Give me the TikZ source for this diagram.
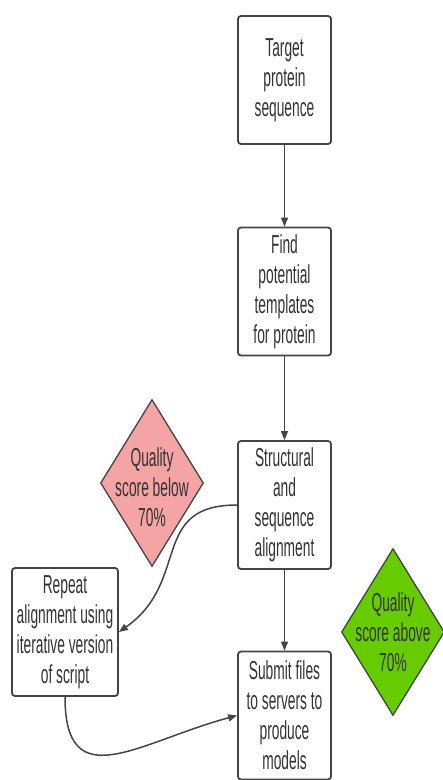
\documentclass[tikz,border=0pt]{standalone}
\usepackage{fontspec}
\setmainfont{Liberation Sans}[FakeStretch=0.53]
\usetikzlibrary{shapes.geometric,arrows.meta}
\definecolor{boxline}{HTML}{444444}
\definecolor{inktext}{HTML}{333333}
\definecolor{lowpink}{HTML}{F4A4A4}
\definecolor{highgreen}{HTML}{66CC00}

\begin{document}
\begin{tikzpicture}
[x=1pt,y=1pt,>={Triangle[length=9pt,width=7pt]},
every node/.style={font=\fontsize{26}{30}\selectfont,text=inktext,align=center},
stage/.style={rectangle,draw=boxline,line width=1.8pt,rounded corners=3pt,fill=white,minimum width=93pt,minimum height=128pt,inner sep=0pt},
quality/.style={diamond,draw=boxline,line width=1.3pt,minimum width=103pt,minimum height=167pt,inner sep=0pt},
link/.style={->,draw=boxline,line width=1.5pt}]
\useasboundingbox (0,0) rectangle (443,-780);
\node[stage] (target) at (284.5,-80) {Target\\protein\\sequence};
\node[stage] (find) at (284.5,-291.5) {Find\\potential\\templates\\for protein};
\node[stage] (align) at (284.5,-505) {Structural\\and\\sequence\\alignment};
\node[stage] (submit) at (284.5,-715.5) {Submit files\\to servers to\\produce\\models};
\node[stage,minimum width=106pt] (repeat) at (65,-632) {Repeat\\alignment using\\iterative version\\of script};
\node[quality,fill=lowpink] (low) at (152,-483) {};
\node (lowtext) at (152,-487) {Quality\\score below\\70\%};
\node[quality,fill=highgreen] (high) at (393,-632) {};
\node (hightext) at (393,-632) {Quality\\score above\\70\%};
\foreach \from/\to in {target/find,find/align,align/submit}
\draw[link] (\from) -- (\to);
\draw[link] (align.west) to[out=180,in=35,looseness=1.3] (repeat.east);
\draw[link] (repeat.south) to[out=-90,in=195,looseness=1.5] (submit.west);
\end{tikzpicture}
\end{document}
